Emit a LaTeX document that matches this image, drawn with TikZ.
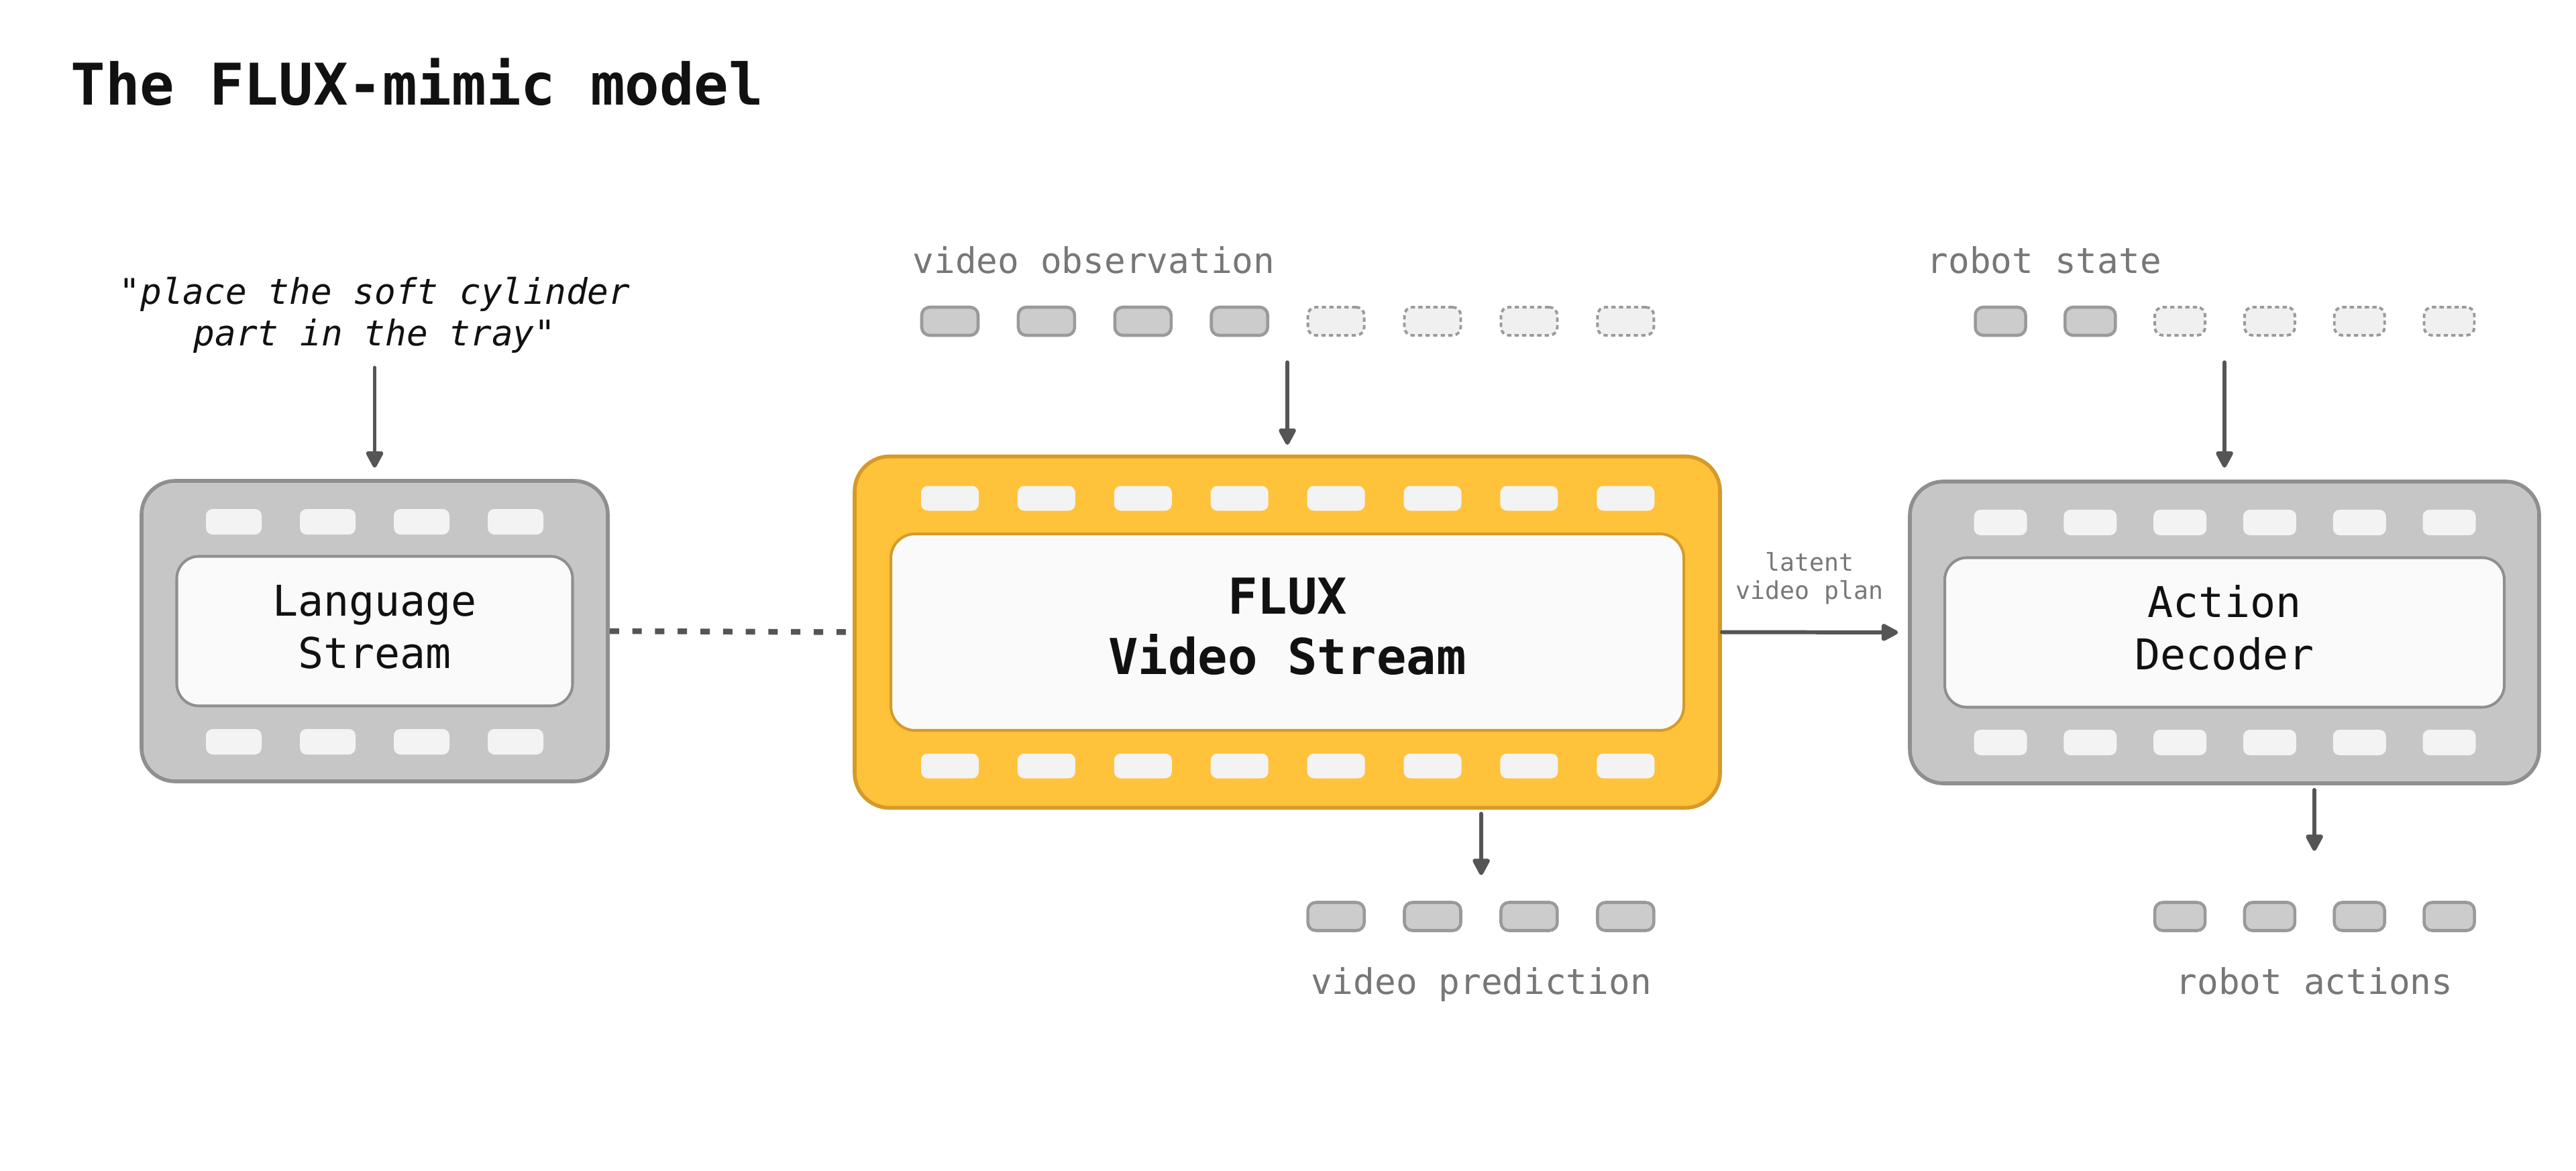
\documentclass[tikz,border=0pt]{standalone}
\usepackage{fontspec}
\setmonofont{DejaVu Sans Mono}
\renewcommand{\familydefault}{\ttdefault}
\usetikzlibrary{arrows.meta,positioning}

\definecolor{ink}{HTML}{111111}
\definecolor{framefill}{HTML}{C6C6C6}
\definecolor{frameedge}{HTML}{8F8F8F}
\definecolor{fluxfill}{HTML}{FFC23B}
\definecolor{fluxedge}{HTML}{D49B29}
\definecolor{panefill}{HTML}{FAFAFA}
\definecolor{holefill}{HTML}{F3F3F3}
\definecolor{tokfill}{HTML}{CCCCCC}
\definecolor{tokedge}{HTML}{9A9A9A}
\definecolor{tokempty}{HTML}{F0F0F0}
\definecolor{arrowgray}{HTML}{555555}
\definecolor{labelgray}{HTML}{777777}

\newcommand{\fs}[2]{\fontsize{#1}{#2}\selectfont}

\begin{document}
\begin{tikzpicture}[
  frame/.style={draw=frameedge, fill=framefill, line width=1.6pt, rounded corners=0.5cm, inner sep=0pt},
  fluxframe/.style={frame, draw=fluxedge, fill=fluxfill, rounded corners=0.52cm},
  pane/.style={draw=frameedge, fill=panefill, line width=1.15pt, rounded corners=0.33cm, inner sep=0pt},
  boxtext/.style={inner sep=0pt, align=center, text=ink, font=\fs{18pt}{22pt}},
  hole/.style={fill=holefill, rounded corners=0.1cm, inner sep=0pt, minimum height=0.38cm},
  tok/.style={draw=tokedge, fill=tokfill, line width=1.3pt, rounded corners=0.12cm, inner sep=0pt, minimum height=0.42cm},
  tokfree/.style={tok, fill=tokempty, line width=1.1pt, dash pattern=on 1.8pt off 1.4pt},
  caption/.style={text=labelgray, inner sep=0pt, font=\fs{15pt}{18pt}},
  flow/.style={draw=arrowgray, line width=1.7pt, line cap=round, -{Triangle[length=0.28cm,width=0.28cm,round]}},
  link/.style={draw=arrowgray, line width=0.085cm, dash pattern=on 0.14cm off 0.198cm}
]
\useasboundingbox (0,0) rectangle (38.4,17.45);

% title
\node[anchor=base west, inner sep=0pt, text=ink, font=\fs{24.4pt}{28pt}\bfseries] (title) at (1.05,15.88) {The FLUX-mimic model};

% language stream
\node[inner sep=0pt, align=center, text=ink, font=\fs{15pt}{17.6pt}\itshape] (instr) at (5.585,12.75) {"place the soft cylinder\\part in the tray"};
\node[frame, minimum width=6.95cm, minimum height=4.48cm] (lang) at (5.585,8.04) {};
\foreach \i in {0,...,3} {
  \pgfmathsetmacro\hx{3.485+1.40*\i}
  \node[hole, minimum width=0.83cm] (langtop\i) at (\hx,9.67) {};
  \node[hole, minimum width=0.83cm] (langbot\i) at (\hx,6.39) {};
}
\node[pane, minimum width=5.90cm, minimum height=2.23cm] (langpane) at (lang) {};
\node[boxtext] (langtxt) at (5.585,8.10) {Language\\Stream};

% flux video stream
\node[caption, anchor=base west] (obslbl) at (13.60,13.38) {video observation};
\foreach \i in {0,...,3} {
  \pgfmathsetmacro\hx{14.16+1.439*\i}
  \node[tok, minimum width=0.84cm] (obs\i) at (\hx,12.66) {};
}
\foreach \i in {4,...,7} {
  \pgfmathsetmacro\hx{14.16+1.439*\i}
  \node[tokfree, minimum width=0.84cm] (obs\i) at (\hx,12.66) {};
}
\node[fluxframe, minimum width=12.90cm, minimum height=5.24cm] (flux) at (19.19,8.025) {};
\foreach \i in {0,...,7} {
  \pgfmathsetmacro\hx{14.16+1.439*\i}
  \node[hole, minimum width=0.86cm, minimum height=0.37cm] (fluxtop\i) at (\hx,10.02) {};
  \node[hole, minimum width=0.86cm, minimum height=0.37cm] (fluxbot\i) at (\hx,6.03) {};
}
\node[pane, draw=fluxedge, rounded corners=0.36cm, minimum width=11.82cm, minimum height=2.93cm] (fluxpane) at (flux) {};
\node[boxtext, font=\fs{21pt}{25.5pt}\bfseries] (fluxtxt) at (19.19,8.11) {FLUX\\Video Stream};
\foreach \i in {4,...,7} {
  \pgfmathsetmacro\hx{14.16+1.439*\i}
  \node[tok, minimum width=0.84cm] (pred\i) at (\hx,3.785) {};
}
\node[caption, anchor=base] (predlbl) at (22.08,2.63) {video prediction};

% action decoder
\node[caption, anchor=base west] (statelbl) at (28.72,13.38) {robot state};
\foreach \i in {0,1} {
  \pgfmathsetmacro\hx{29.82+1.338*\i}
  \node[tok, minimum width=0.75cm] (state\i) at (\hx,12.66) {};
}
\foreach \i in {2,...,5} {
  \pgfmathsetmacro\hx{29.82+1.338*\i}
  \node[tokfree, minimum width=0.75cm] (state\i) at (\hx,12.66) {};
}
\node[frame, minimum width=9.38cm, minimum height=4.50cm] (act) at (33.16,8.02) {};
\foreach \i in {0,...,5} {
  \pgfmathsetmacro\hx{29.82+1.338*\i}
  \node[hole, minimum width=0.79cm] (acttop\i) at (\hx,9.66) {};
  \node[hole, minimum width=0.79cm] (actbot\i) at (\hx,6.38) {};
}
\node[pane, minimum width=8.34cm, minimum height=2.23cm] (actpane) at (act) {};
\node[boxtext] (acttxt) at (33.16,8.09) {Action\\Decoder};
\foreach \i in {2,...,5} {
  \pgfmathsetmacro\hx{29.82+1.338*\i}
  \node[tok, minimum width=0.75cm] (out\i) at (\hx,3.785) {};
}
\node[caption, anchor=base] (outlbl) at (34.50,2.63) {robot actions};

\node[caption, align=center, font=\fs{10.4pt}{12pt}] (planlbl) at (26.97,8.825) {latent\\video plan};

% connectors
\draw[flow, shorten <=0.21cm, shorten >=0.17cm] (instr.south) -- (lang.north);
\draw[flow, shorten <=0.38cm, shorten >=0.145cm] (flux.north |- obs3.south) -- (flux.north);
\draw[flow, shorten <=0.38cm, shorten >=0.18cm] (act.north |- state1.south) -- (act.north);
\draw[link] (lang.east) -- (flux.west);
\draw[flow, shorten >=0.15cm] (flux.east) -- (act.west);
\draw[flow, shorten <=0.06cm, shorten >=0.385cm] (predlbl |- flux.south) -- (predlbl |- pred5.north);
\draw[flow, shorten <=0.07cm, shorten >=0.745cm] (outlbl |- act.south) -- (outlbl |- out2.north);
\end{tikzpicture}
\end{document}
